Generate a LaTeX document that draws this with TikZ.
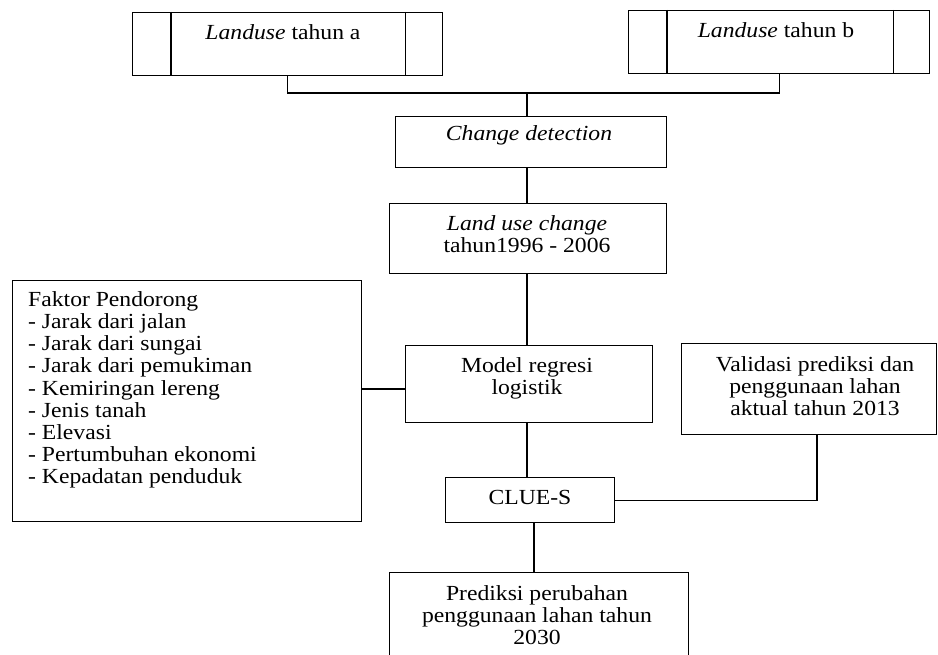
\documentclass[tikz,border=0pt]{standalone}
\usepackage{fontspec}
\setmainfont[FakeStretch=1.1]{Liberation Serif}
\newcommand\dgfs{\fontsize{21.5}{22.2}\selectfont}
\tikzset{
  box/.style={draw, line width=1.2pt, inner sep=0pt, anchor=north west},
  txt/.style={inner sep=0pt, align=center, font=\dgfs},
  conn/.style={line width=1.2pt},
}
\begin{document}
\begin{tikzpicture}[x=1pt, y=-1pt]
\useasboundingbox (0,0) rectangle (938,655);
% boxes
\node[box, minimum width=310pt, minimum height=63pt] (la) at (132,12) {};
\node[box, minimum width=301pt, minimum height=63pt] (lb) at (628,10) {};
\node[box, minimum width=271pt, minimum height=51pt] (cd) at (395,116) {};
\node[box, minimum width=277pt, minimum height=70pt] (luc) at (389,203) {};
\node[box, minimum width=349pt, minimum height=241pt] (fk) at (12,280) {};
\node[box, minimum width=247pt, minimum height=77pt] (mr) at (405,345) {};
\node[box, minimum width=255pt, minimum height=91pt] (val) at (681,343) {};
\node[box, minimum width=169pt, minimum height=45pt] (clue) at (445,477) {};
\node[box, minimum width=299pt, minimum height=100pt] (pred) at (389,572) {};
% inner bars of the two landuse boxes
\draw[conn] ([xshift=39pt]la.north west) -- ([xshift=39pt]la.south west);
\draw[conn] ([xshift=-38pt]la.north east) -- ([xshift=-38pt]la.south east);
\draw[conn] ([xshift=39pt]lb.north west) -- ([xshift=39pt]lb.south west);
\draw[conn] ([xshift=-37pt]lb.north east) -- ([xshift=-37pt]lb.south east);
% texts
\node[txt] (lat) at (283,32) {\textit{Landuse} tahun a};
\node[txt] (lbt) at (776,30) {\textit{Landuse} tahun b};
\node[txt] (cdt) at (529,135) {\textit{Change detection}};
\node[txt] (luct) at (527,234) {\textit{Land use change}\\tahun1996 - 2006};
\node[txt] (mrt) at (527,378) {Model regresi\\logistik};
\node[txt] (valt) at (815,386) {Validasi prediksi dan\\penggunaan lahan\\aktual tahun 2013};
\node[txt] (cluet) at (530,497) {CLUE-S};
\node[txt] (predt) at (537,615) {Prediksi perubahan\\penggunaan lahan tahun\\2030};
\node[txt, align=left, anchor=west] (fkt) at (28,390) {Faktor Pendorong\\- Jarak dari jalan\\- Jarak dari sungai\\- Jarak dari pemukiman\\- Kemiringan lereng\\- Jenis tanah\\- Elevasi\\- Pertumbuhan ekonomi\\- Kepadatan penduduk};
% connectors
\coordinate (spine) at (527,93);
\coordinate (fy) at (0,389);
\coordinate (vx) at (817,0);
\coordinate (px) at (534,0);
\draw[conn] (la.south) |- (spine);
\draw[conn] (lb.south) |- (spine);
\draw[conn] (spine) -- (spine |- cd.north);
\draw[conn] (spine |- cd.south) -- (spine |- luc.north);
\draw[conn] (spine |- luc.south) -- (spine |- mr.north);
\draw[conn] (spine |- mr.south) -- (spine |- clue.north);
\draw[conn] (fk.east |- fy) -- (mr.west |- fy);
\draw[conn] (clue.east) -| (vx |- val.south);
\draw[conn] (px |- clue.south) -- (px |- pred.north);
\end{tikzpicture}
\end{document}
